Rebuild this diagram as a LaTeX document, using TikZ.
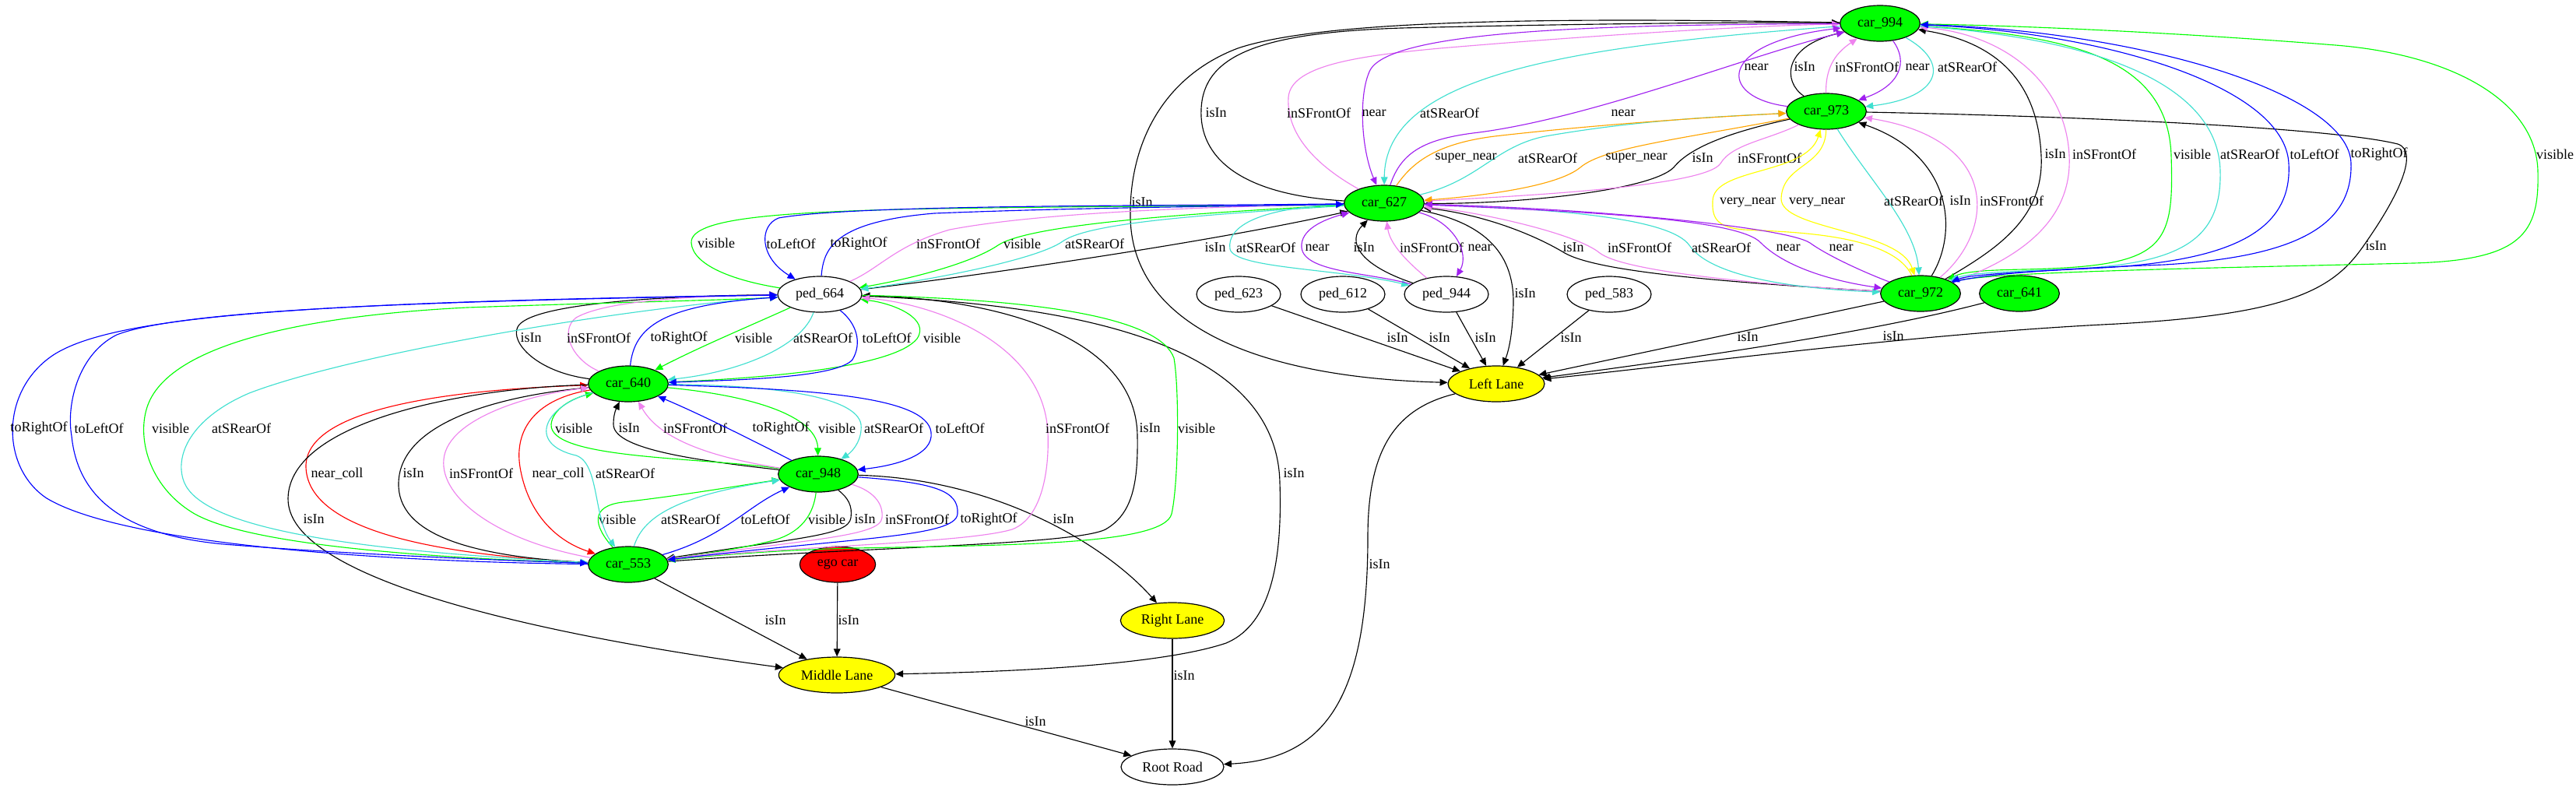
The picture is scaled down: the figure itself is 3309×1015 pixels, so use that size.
\documentclass[tikz,border=0pt]{standalone}
\usepackage{fontspec}
\setmainfont{Liberation Serif}
\usetikzlibrary{shapes.geometric,arrows.meta}
\definecolor{cgreen}{RGB}{0,255,0}
\definecolor{cblue}{RGB}{0,0,255}
\definecolor{cturq}{RGB}{64,224,208}
\definecolor{cviolet}{RGB}{238,130,238}
\definecolor{cpurple}{RGB}{160,32,240}
\definecolor{corange}{RGB}{255,165,0}
\definecolor{cyellow}{RGB}{255,255,0}
\definecolor{cred}{RGB}{255,0,0}
\begin{document}
\begin{tikzpicture}[x=0.75pt,y=-0.75pt,
  every node/.style={font=\fontsize{13.5}{16}\selectfont},
  nd/.style={ellipse,draw=black,line width=0.9pt,inner sep=0pt,minimum height=34.5pt},
  car/.style={nd,fill=cgreen,minimum width=77pt},
  ped/.style={nd,fill=white,minimum width=81pt},
  lane/.style={nd,fill=cyellow},
  e/.style={line width=0.85pt,-{Triangle[length=7.5pt,width=6.5pt]}},
  lb/.style={inner sep=0pt,text=black}]
\path[fill=white] (0,0) rectangle (3309,1015);
\useasboundingbox (0,0) rectangle (3309,1015);
% nodes
\node[car] (c994) at (2415,30) {car\_994};
\node[car] (c973) at (2346,143) {car\_973};
\node[car] (c627) at (1778,261) {car\_627};
\node[ped] (p664) at (1053,378) {ped\_664};
\node[ped] (p623) at (1591,378) {ped\_623};
\node[ped] (p612) at (1725,378) {ped\_612};
\node[ped] (p944) at (1858,378) {ped\_944};
\node[ped] (p583) at (2067,378) {ped\_583};
\node[car] (c972) at (2467,377) {car\_972};
\node[car] (c641) at (2594,377) {car\_641};
\node[car] (c640) at (807,493) {car\_640};
\node[lane,minimum width=93pt] (left) at (1922,493) {Left Lane};
\node[car] (c948) at (1051,609) {car\_948};
\node[car] (c553) at (807,725) {car\_553};
\node[nd,fill=cred,minimum width=73pt] (ego) at (1076,725) {ego car};
\node[lane,minimum width=100pt] (right) at (1506,797) {Right Lane};
\node[lane,minimum width=112pt] (middle) at (1075,867) {Middle Lane};
\node[nd,fill=white,minimum width=99pt] (root) at (1506,985) {Root Road};

% ---------- red
\draw[e,cred] (c553) .. controls (500,710) and (395,665) .. (393,600) .. controls (391,520) and (600,500) .. (c640) node[lb] at (433,608) {near\_coll};
\draw[e,cred] (c640) .. controls (690,512) and (660,550) .. (668,600) .. controls (678,660) and (715,695) .. (c553) node[lb] at (717,608) {near\_coll};

% ---------- black
\draw[e] (c627) .. controls (1590,250) and (1540,200) .. (1543,140) .. controls (1546,70) and (1620,42) .. (1800,36) .. controls (2000,31) and (2250,28) .. (c994) node[lb] at (1562,145) {isIn};
\draw[e] (c973) .. controls (2290,105) and (2290,60) .. (c994) node[lb] at (2318,86) {isIn};
\draw[e] (c973) .. controls (2220,170) and (2170,190) .. (2150,215) .. controls (2120,245) and (1950,262) .. (c627) node[lb] at (2187,203) {isIn};
\draw[e] (c972) .. controls (2515,300) and (2510,200) .. (c973) node[lb] at (2518,258) {isIn};
\draw[e] (c972) .. controls (2565,320) and (2626,280) .. (2622,200) .. controls (2618,110) and (2570,55) .. (c994) node[lb] at (2640,198) {isIn};
\draw[e] (c973) .. controls (2700,150) and (3000,165) .. (3080,185) .. controls (3110,195) and (3075,260) .. (3040,310) .. controls (3000,370) and (2950,405) .. (2700,417) .. controls (2450,430) and (2150,470) .. (left) node[lb] at (3052,316) {isIn};
\draw[e] (c972) -- (left) node[lb] at (2245,433) {isIn};
\draw[e] (c641) .. controls (2430,420) and (2250,450) .. (left) node[lb] at (2432,432) {isIn};
\draw[e] (p623) -- (left) node[lb] at (1795,434) {isIn};
\draw[e] (p612) -- (left) node[lb] at (1849,434) {isIn};
\draw[e] (p944) -- (left) node[lb] at (1908,434) {isIn};
\draw[e] (p583) -- (left) node[lb] at (2018,434) {isIn};
\draw[e] (c627) .. controls (1900,285) and (1945,320) .. (1944,390) .. controls (1943,430) and (1938,450) .. (left) node[lb] at (1959,377) {isIn};
\draw[e] (c994) .. controls (2000,22) and (1700,25) .. (1590,62) .. controls (1490,100) and (1450,190) .. (1452,280) .. controls (1455,420) and (1620,485) .. (left) node[lb] at (1467,260) {isIn};
\draw[e] (left) .. controls (1790,525) and (1757,580) .. (1757,690) .. controls (1757,900) and (1700,975) .. (root) node[lb] at (1772,725) {isIn};
\draw[e] (right) -- (root) node[lb] at (1521,868) {isIn};
\draw[e] (middle) -- (root) node[lb] at (1330,927) {isIn};
\draw[e] (ego) -- (middle) node[lb] at (1090,797) {isIn};
\draw[e] (c553) -- (middle) node[lb] at (996,797) {isIn};
\draw[e] (c948) .. controls (1280,615) and (1420,700) .. (right) node[lb] at (1366,667) {isIn};
\draw[e] (c640) .. controls (600,498) and (372,540) .. (370,640) .. controls (368,760) and (800,830) .. (middle) node[lb] at (403,667) {isIn};
\draw[e] (p664) .. controls (1350,390) and (1640,430) .. (1644,620) .. controls (1648,740) and (1625,805) .. (1575,826) .. controls (1480,858) and (1250,864) .. (middle) node[lb] at (1662,608) {isIn};
\draw[e] (p664) .. controls (1250,355) and (1550,312) .. (c627) node[lb] at (1561,318) {isIn};
\draw[e] (c640) .. controls (690,478) and (655,440) .. (665,420) .. controls (680,390) and (850,380) .. (p664) node[lb] at (682,434) {isIn};
\draw[e] (c553) .. controls (1100,703) and (1380,700) .. (1420,680) .. controls (1455,660) and (1462,620) .. (1461,560) .. controls (1460,440) and (1300,385) .. (p664) node[lb] at (1477,550) {isIn};
\draw[e] (c948) .. controls (880,590) and (788,575) .. (788,545) .. controls (788,535) and (790,528) .. (c640) node[lb] at (808,550) {isIn};
\draw[e] (c553) .. controls (600,715) and (510,685) .. (512,620) .. controls (514,540) and (650,508) .. (c640) node[lb] at (531,608) {isIn};
\draw[e] (c948) .. controls (1090,640) and (1095,650) .. (1093,665) .. controls (1090,688) and (1030,690) .. (c553) node[lb] at (1111,667) {isIn};
\draw[e] (p944) .. controls (1745,340) and (1730,310) .. (c627) node[lb] at (1752,318) {isIn};
\draw[e] (c972) .. controls (2200,362) and (2050,348) .. (2010,325) .. controls (1965,298) and (1900,275) .. (c627) node[lb] at (2021,318) {isIn};

% ---------- green
\draw[e,cgreen] (c994) .. controls (2650,45) and (2785,70) .. (2789,200) .. controls (2793,320) and (2780,342) .. (2600,346) .. controls (2540,347) and (2520,350) .. (c972) node[lb] at (2816,198) {visible};
\draw[e,cgreen] (c972) .. controls (2540,350) and (2800,345) .. (3100,338) .. controls (3240,334) and (3262,300) .. (3260,220) .. controls (3258,130) and (3150,70) .. (3000,58) .. controls (2800,42) and (2600,33) .. (c994) node[lb] at (3282,198) {visible};
\draw[e,cgreen] (p664) .. controls (940,360) and (890,340) .. (888,312) .. controls (886,280) and (1000,272) .. (1200,268) .. controls (1450,264) and (1650,265) .. (c627) node[lb] at (920,312) {visible};
\draw[e,cgreen] (c627) .. controls (1500,275) and (1320,290) .. (1282,315) .. controls (1245,340) and (1160,360) .. (p664) node[lb] at (1313,313) {visible};
\draw[e,cgreen] (p664) .. controls (960,420) and (900,445) .. (c640) node[lb] at (968,434) {visible};
\draw[e,cgreen] (c640) .. controls (1000,485) and (1150,470) .. (1178,435) .. controls (1195,410) and (1150,390) .. (p664) node[lb] at (1210,434) {visible};
\draw[e,cgreen] (c553) .. controls (600,718) and (330,705) .. (250,660) .. controls (190,625) and (175,560) .. (190,520) .. controls (220,440) and (400,405) .. (600,395) .. controls (800,388) and (950,385) .. (p664) node[lb] at (219,550) {visible};
\draw[e,cgreen] (p664) .. controls (1350,385) and (1490,410) .. (1508,460) .. controls (1515,500) and (1514,620) .. (1505,660) .. controls (1495,700) and (1300,700) .. (1100,704) .. controls (1000,706) and (900,715) .. (c553) node[lb] at (1537,550) {visible};
\draw[e,cgreen] (c948) .. controls (900,587) and (705,590) .. (708,545) .. controls (710,525) and (735,512) .. (c640) node[lb] at (737,550) {visible};
\draw[e,cgreen] (c640) .. controls (985,510) and (1050,540) .. (c948) node[lb] at (1075,550) {visible};
\draw[e,cgreen] (c553) .. controls (762,675) and (758,650) .. (800,645) .. controls (880,636) and (960,622) .. (c948) node[lb] at (793,667) {visible};
\draw[e,cgreen] (c948) .. controls (1045,660) and (1030,685) .. (990,695) .. controls (950,705) and (900,712) .. (c553) node[lb] at (1062,667) {visible};

% ---------- violet
\draw[e,cviolet] (c627) .. controls (1695,215) and (1652,175) .. (1655,125) .. controls (1658,85) and (1740,72) .. (1850,62) .. controls (2050,45) and (2250,33) .. (c994) node[lb] at (1694,145) {inSFrontOf};
\draw[e,cviolet] (c973) .. controls (2345,90) and (2355,70) .. (c994) node[lb] at (2398,86) {inSFrontOf};
\draw[e,cviolet] (c973) .. controls (2270,180) and (2225,185) .. (2210,210) .. controls (2190,240) and (1950,252) .. (c627) node[lb] at (2273,203) {inSFrontOf};
\draw[e,cviolet] (c972) .. controls (2560,300) and (2575,180) .. (c973) node[lb] at (2584,258) {inSFrontOf};
\draw[e,cviolet] (c972) .. controls (2600,330) and (2662,280) .. (2658,200) .. controls (2654,110) and (2580,45) .. (c994) node[lb] at (2703,198) {inSFrontOf};
\draw[e,cviolet] (p664) .. controls (1130,345) and (1150,315) .. (1220,295) .. controls (1350,270) and (1600,265) .. (c627) node[lb] at (1218,313) {inSFrontOf};
\draw[e,cviolet] (c640) .. controls (735,462) and (718,425) .. (740,408) .. controls (780,385) and (900,380) .. (p664) node[lb] at (769,434) {inSFrontOf};
\draw[e,cviolet] (c553) .. controls (1000,702) and (1240,698) .. (1300,680) .. controls (1340,665) and (1348,600) .. (1346,555) .. controls (1340,440) and (1200,390) .. (p664) node[lb] at (1384,550) {inSFrontOf};
\draw[e,cviolet] (c948) .. controls (900,585) and (845,560) .. (c640) node[lb] at (893,550) {inSFrontOf};
\draw[e,cviolet] (c553) .. controls (640,695) and (565,640) .. (570,590) .. controls (575,535) and (690,505) .. (c640) node[lb] at (618,608) {inSFrontOf};
\draw[e,cviolet] (c948) .. controls (1120,630) and (1135,645) .. (1133,665) .. controls (1131,688) and (1050,692) .. (c553) node[lb] at (1178,667) {inSFrontOf};
\draw[e,cviolet] (p944) .. controls (1800,330) and (1785,310) .. (c627) node[lb] at (1839,318) {inSFrontOf};
\draw[e,cviolet] (c972) .. controls (2250,365) and (2085,348) .. (2055,325) .. controls (2025,300) and (1900,272) .. (c627) node[lb] at (2106,318) {inSFrontOf};

% ---------- turquoise
\draw[e,cturq] (c994) .. controls (2000,60) and (1779,100) .. (c627) node[lb] at (1862,145) {atSRearOf};
\draw[e,cturq] (c994) .. controls (2505,80) and (2495,125) .. (c973) node[lb] at (2527,86) {atSRearOf};
\draw[e,cturq] (c627) .. controls (1900,232) and (1920,188) .. (1985,175) .. controls (2100,155) and (2200,150) .. (c973) node[lb] at (1988,203) {atSRearOf};
\draw[e,cturq] (c973) .. controls (2400,230) and (2460,290) .. (c972) node[lb] at (2458,258) {atSRearOf};
\draw[e,cturq] (c994) .. controls (2700,50) and (2850,110) .. (2852,220) .. controls (2854,310) and (2800,340) .. (2650,346) .. controls (2560,349) and (2525,352) .. (c972) node[lb] at (2890,198) {atSRearOf};
\draw[e,cturq] (c627) .. controls (1560,275) and (1400,285) .. (1365,310) .. controls (1330,335) and (1180,362) .. (p664) node[lb] at (1406,313) {atSRearOf};
\draw[e,cturq] (p664) .. controls (1030,445) and (950,478) .. (c640) node[lb] at (1057,434) {atSRearOf};
\draw[e,cturq] (p664) .. controls (800,395) and (450,455) .. (320,505) .. controls (250,535) and (225,580) .. (235,615) .. controls (250,670) and (400,705) .. (c553) node[lb] at (310,550) {atSRearOf};
\draw[e,cturq] (c640) .. controls (1000,495) and (1100,510) .. (1106,545) .. controls (1108,565) and (1095,580) .. (c948) node[lb] at (1148,550) {atSRearOf};
\draw[e,cturq] (c640) .. controls (700,520) and (675,570) .. (740,585) .. controls (770,595) and (762,665) .. (c553) node[lb] at (803,608) {atSRearOf};
\draw[e,cturq] (c553) .. controls (825,668) and (860,638) .. (c948) node[lb] at (887,667) {atSRearOf};
\draw[e,cturq] (c627) .. controls (1620,266) and (1575,290) .. (1580,320) .. controls (1586,345) and (1720,345) .. (p944) node[lb] at (1626,318) {atSRearOf};
\draw[e,cturq] (c627) .. controls (2000,268) and (2145,280) .. (2170,315) .. controls (2200,360) and (2330,372) .. (c972) node[lb] at (2211,318) {atSRearOf};

% ---------- yellow
\draw[e,cyellow] (c972) .. controls (2430,300) and (2300,298) .. (2240,295) .. controls (2205,292) and (2199,280) .. (2200,258) .. controls (2201,215) and (2320,225) .. (c973) node[lb] at (2245,260) {very\_near};
\draw[e,cyellow] (c973) .. controls (2345,215) and (2290,210) .. (2288,255) .. controls (2287,295) and (2440,295) .. (c972) node[lb] at (2334,260) {very\_near};

% ---------- orange
\draw[e,corange] (c627) .. controls (1812,212) and (1840,185) .. (1920,175) .. controls (2050,160) and (2200,150) .. (c973) node[lb] at (1883,203) {super\_near};
\draw[e,corange] (c973) .. controls (2150,180) and (2060,190) .. (2030,215) .. controls (2000,240) and (1900,252) .. (c627) node[lb] at (2102,203) {super\_near};

% ---------- purple
\draw[e,cpurple] (c994) .. controls (2100,32) and (1790,35) .. (1760,90) .. controls (1745,120) and (1748,190) .. (c627) node[lb] at (1765,145) {near};
\draw[e,cpurple] (c627) .. controls (1800,195) and (1830,178) .. (1900,170) .. controls (2050,150) and (2250,70) .. (c994) node[lb] at (2085,145) {near};
\draw[e,cpurple] (c973) .. controls (2205,125) and (2205,55) .. (c994) node[lb] at (2256,86) {near};
\draw[e,cpurple] (c994) .. controls (2452,80) and (2440,110) .. (c973) node[lb] at (2463,86) {near};
\draw[e,cpurple] (p944) .. controls (1760,350) and (1675,350) .. (1672,318) .. controls (1670,295) and (1700,282) .. (c627) node[lb] at (1692,318) {near};
\draw[e,cpurple] (c627) .. controls (1868,285) and (1888,325) .. (p944) node[lb] at (1901,318) {near};
\draw[e,cpurple] (c627) .. controls (2050,272) and (2235,282) .. (2262,312) .. controls (2295,345) and (2360,362) .. (c972) node[lb] at (2297,318) {near};
\draw[e,cpurple] (c972) .. controls (2400,352) and (2350,330) .. (2325,312) .. controls (2295,292) and (2050,268) .. (c627) node[lb] at (2365,318) {near};

% ---------- blue
\draw[e,cblue] (c994) .. controls (2700,40) and (2935,110) .. (2940,210) .. controls (2945,300) and (2860,335) .. (2700,344) .. controls (2580,350) and (2530,353) .. (c972) node[lb] at (2973,198) {toLeftOf};
\draw[e,cblue] (c972) .. controls (2540,352) and (2650,345) .. (2780,340) .. controls (2950,330) and (3022,290) .. (3020,210) .. controls (3018,120) and (2750,40) .. (c994) node[lb] at (3056,198) {toRightOf};
\draw[e,cblue] (c627) .. controls (1500,265) and (1100,262) .. (1000,280) .. controls (975,290) and (975,330) .. (p664) node[lb] at (1016,313) {toLeftOf};
\draw[e,cblue] (p664) .. controls (1058,320) and (1070,285) .. (1200,274) .. controls (1400,266) and (1600,265) .. (c627) node[lb] at (1103,313) {toRightOf};
\draw[e,cblue] (c640) .. controls (815,420) and (850,392) .. (p664) node[lb] at (872,434) {toRightOf};
\draw[e,cblue] (p664) .. controls (1100,415) and (1108,440) .. (1095,462) .. controls (1075,485) and (950,488) .. (c640) node[lb] at (1139,434) {toLeftOf};
\draw[e,cblue] (c553) .. controls (500,722) and (160,700) .. (60,640) .. controls (0,600) and (0,500) .. (70,455) .. controls (150,405) and (400,388) .. (p664) node[lb] at (50,550) {toRightOf};
\draw[e,cblue] (p664) .. controls (600,386) and (240,395) .. (150,430) .. controls (100,455) and (85,520) .. (92,560) .. controls (100,640) and (160,690) .. (300,700) .. controls (450,712) and (650,720) .. (c553) node[lb] at (127,550) {toLeftOf};
\draw[e,cblue] (c948) .. controls (960,562) and (895,530) .. (c640) node[lb] at (1003,550) {toRightOf};
\draw[e,cblue] (c640) .. controls (1050,500) and (1190,510) .. (1196,555) .. controls (1200,585) and (1150,598) .. (c948) node[lb] at (1233,550) {toLeftOf};
\draw[e,cblue] (c553) .. controls (930,690) and (960,650) .. (c948) node[lb] at (983,667) {toLeftOf};
\draw[e,cblue] (c948) .. controls (1200,620) and (1232,630) .. (1230,660) .. controls (1228,690) and (1100,690) .. (c553) node[lb] at (1270,667) {toRightOf};
\end{tikzpicture}
\end{document}
